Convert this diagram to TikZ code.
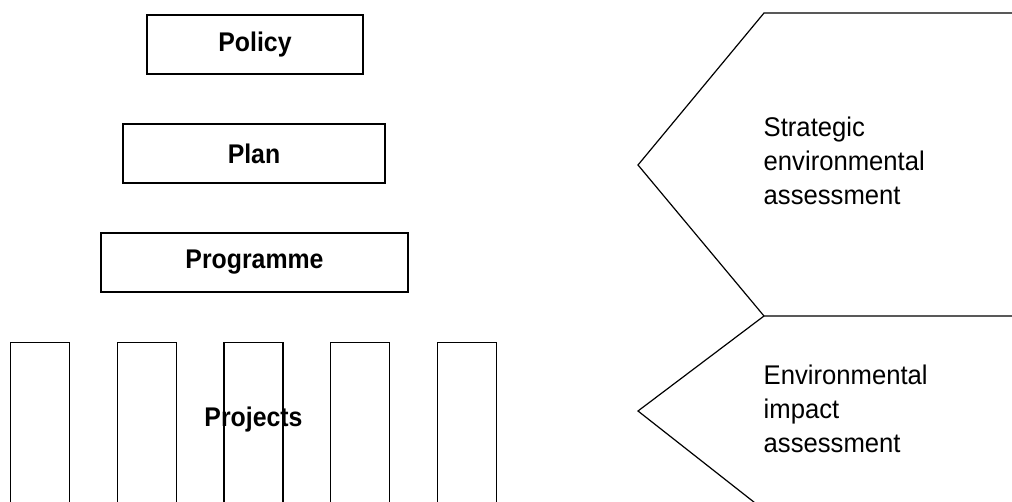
\documentclass[tikz,border=0pt]{standalone}
\usepackage{fontspec}
\setmainfont{Liberation Sans}
\newfontfamily\labelfont[FakeStretch=0.92]{Liberation Sans}
\newfontfamily\bodyfont[FakeStretch=0.95]{Liberation Sans}
\begin{document}
\begin{tikzpicture}[x=1pt,y=-1pt,
  line width=1.4pt,
  level/.style={draw, rectangle, minimum height=59pt, inner sep=0pt,
    font=\labelfont\fontsize{27}{29}\selectfont\bfseries},
  column/.style={draw, rectangle, minimum width=59pt, minimum height=190pt,
    anchor=north, inner sep=0pt},
  assess/.style={anchor=base west, align=left, inner sep=0pt,
    font=\bodyfont\fontsize{27}{34}\selectfont}]
\useasboundingbox (0,0) rectangle (1012,502);
\clip (0,0) rectangle (1012,502);

% decision levels
\node[level, minimum width=216pt] (policy) at (255,44.5) {Policy};
\node[level, minimum width=262pt] (plan) at (254,153.5) {Plan};
\node[level, minimum width=307pt] (programme) at (254.5,262.5) {Programme};

% project columns, running off the lower edge
\node[column] (p1) at (40,342) {};
\node[column] (p2) at (147,342) {};
\node[column] (p3) at (253.5,342) {};
\node[column] (p4) at (360,342) {};
\node[column] (p5) at (467,342) {};
\node[font=\labelfont\fontsize{27}{29}\selectfont\bfseries] (projects) at (253.5,420) {Projects};

% assessment chevrons
\coordinate (seaTop) at (764,13);
\coordinate (seaTip) at (638,165);
\coordinate (joint) at (764,316);
\coordinate (eiaTip) at (638,411);
\coordinate (eiaEnd) at (764,510);
\draw[line width=1.2pt] (1020,13) -- (seaTop) -- (seaTip) -- (joint) -- (1020,316);
\draw[line width=1.2pt] (joint) -- (eiaTip) -- (eiaEnd);

% the base anchor sits on the last line
\node[assess] (sea) at (763,205) {Strategic\\environmental\\assessment};
\node[assess] (eia) at (763,452) {Environmental\\impact\\assessment};
\end{tikzpicture}
\end{document}
